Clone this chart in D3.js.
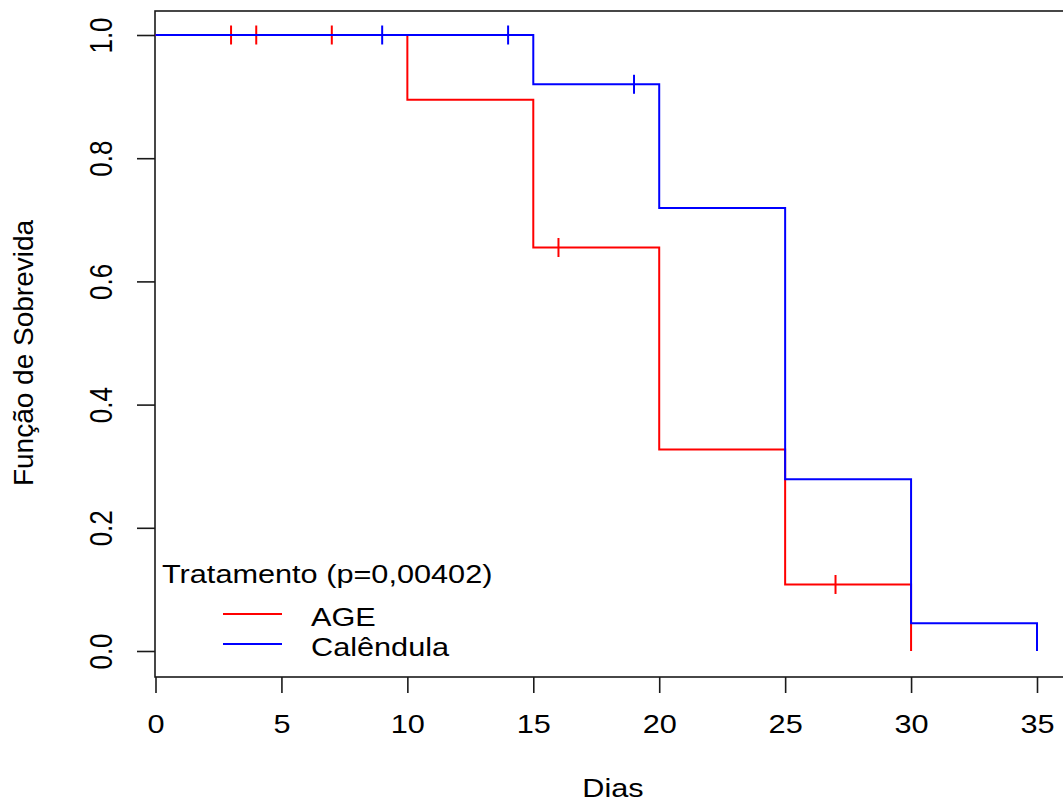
<!DOCTYPE html>
<html>
<head>
<meta charset="utf-8">
<script src="https://cdn.jsdelivr.net/npm/d3@7/dist/d3.min.js"></script>
<style>
  body { margin: 0; background: #fff; }
  svg text { font-family: "Liberation Sans", Arial, sans-serif; fill: #000; }
</style>
</head>
<body>
<svg id="km-svg" width="1063" height="802"></svg>
<script>
// Kaplan-Meier curves
var ageTimes = [0, 10, 15, 20, 25, 30];
var ageSurv  = [1.0, 0.895, 0.655, 0.327, 0.108, 0.0];
var ageCensor = [3, 4, 7, 16, 27];

var calTimes = [0, 15, 20, 25, 30, 35];
var calSurv  = [1.0, 0.920, 0.719, 0.279, 0.045, 0.0];
var calCensor = [9, 14, 19];

var groupNames = ["AGE", "Calêndula"];
var groupColors = ["#ff0000", "#0000ff"];
var xTicks = [0, 5, 10, 15, 20, 25, 30, 35];
var yTicks = [0.0, 0.2, 0.4, 0.6, 0.8, 1.0];
var legendTitle = "Tratamento (p=0,00402)";
var xLabel = "Dias";
var yLabel = "Função de Sobrevida";

var width = 1063;
var height = 802;
var box = { left: 155, top: 11, right: 1071, bottom: 677 };
var stretch = 1.18;   // the text in the picture is drawn a bit wide
var fontSize = 26;

var svg;
var x;
var y;

document.addEventListener('DOMContentLoaded', function() {
    svg = d3.select("#km-svg");

    x = d3.scaleLinear()
        .domain([0, 35])
        .range([155.5, 1037]);

    y = d3.scaleLinear()
        .domain([0, 1])
        .range([651, 35]);

    drawAxes();
    drawCurve(ageTimes, ageSurv, ageCensor, groupColors[0]);
    drawCurve(calTimes, calSurv, calCensor, groupColors[1]);
    drawLegend();
});

function stepValue(times, surv, t){
    var v = surv[0];
    for(i=0; i<times.length; i++){
        if(times[i] <= t){
            v = surv[i];
        }
    }
    return v;
}

function drawAxes(){
    svg.append("rect")
        .attr("x", box.left)
        .attr("y", box.top)
        .attr("width", box.right - box.left)
        .attr("height", box.bottom - box.top)
        .style("fill", "none")
        .style("stroke", "#1a1a1a")
        .style("stroke-width", "1.6px");

    var xAxis = svg.append('g')
        .attr("id", "x-axis")
        .attr("transform", "translate(0," + box.bottom + ")")
        .call(d3.axisBottom(x).tickValues(xTicks).tickSize(16).tickFormat(d3.format("d")));

    xAxis.select(".domain").remove();
    xAxis.selectAll("line").style("stroke", "#1a1a1a").style("stroke-width", "1.6px");
    xAxis.selectAll("text")
        .attr("y", 0)
        .attr("dy", 0)
        .attr("transform", "translate(0,56) scale(" + stretch + ",1)")
        .style("font-size", fontSize + "px");

    var yAxis = svg.append('g')
        .attr("id", "y-axis")
        .attr("transform", "translate(" + box.left + ",0)")
        .call(d3.axisLeft(y).tickValues(yTicks).tickSize(18).tickFormat(d3.format(".1f")));

    yAxis.select(".domain").remove();
    yAxis.selectAll("line").style("stroke", "#1a1a1a").style("stroke-width", "1.6px");
    yAxis.selectAll("text")
        .attr("x", 0)
        .attr("dy", 0)
        .attr("text-anchor", "middle")
        .attr("transform", "translate(-43,0) scale(" + stretch + ",1) rotate(-90)")
        .style("font-size", fontSize + "px");

    svg.append("text")
        .attr("class", "x label")
        .attr("text-anchor", "middle")
        .attr("transform", "translate(613,797) scale(" + stretch + ",1)")
        .style("font-size", fontSize + "px")
        .text(xLabel);

    svg.append("text")
        .attr("class", "y label")
        .attr("text-anchor", "middle")
        .attr("transform", "translate(33,353) rotate(-90)")
        .style("font-size", "28px")
        .text(yLabel);
}

function drawCurve(times, surv, censor, color){
    var pts = [];
    for(i=0; i<times.length; i++){
        pts.push({t: times[i], s: surv[i]});
    }

    svg.append("path")
        .datum(pts)
        .attr("class", "line")
        .attr("d",
          d3.line()
            .curve(d3.curveStepAfter)
            .x(d => x(d.t))
            .y(d => y(d.s))
        )
        .style("fill", "none")
        .style("stroke", color)
        .style("stroke-width", "2px");

    svg.selectAll(null)
        .data(censor)
        .enter()
        .append("line")
        .attr("x1", d => x(d))
        .attr("x2", d => x(d))
        .attr("y1", d => y(stepValue(times, surv, d)) - 9.5)
        .attr("y2", d => y(stepValue(times, surv, d)) + 9.5)
        .style("stroke", color)
        .style("stroke-width", "2px");
}

function drawLegend(){
    var lg = svg.append("g").attr("id", "legend");

    lg.append("text")
        .attr("transform", "translate(162,583) scale(" + stretch + ",1)")
        .style("font-size", fontSize + "px")
        .text(legendTitle);

    for(k=0; k<groupNames.length; k++){
        var rowY = 614 + k*30;
        lg.append("line")
            .attr("x1", 223)
            .attr("x2", 282)
            .attr("y1", rowY)
            .attr("y2", rowY)
            .style("stroke", groupColors[k])
            .style("stroke-width", "2px");

        lg.append("text")
            .attr("transform", "translate(311," + (rowY + 12) + ") scale(" + stretch + ",1)")
            .style("font-size", fontSize + "px")
            .text(groupNames[k]);
    }
}
</script>
</body>
</html>
